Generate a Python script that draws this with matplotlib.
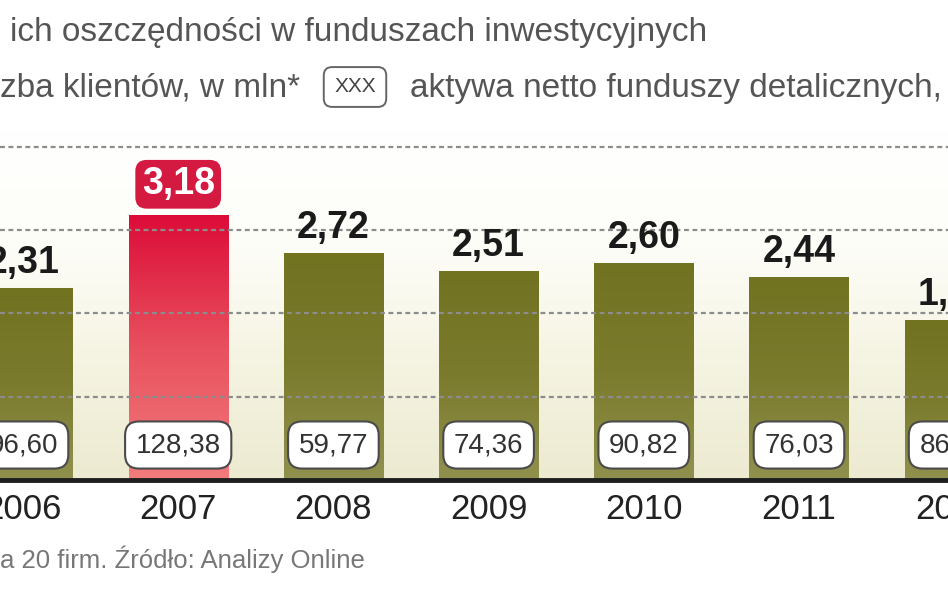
import matplotlib
matplotlib.use("Agg")
import matplotlib.pyplot as plt
from matplotlib.colors import LinearSegmentedColormap
import numpy as np

plt.rcParams["font.family"] = ["Liberation Sans", "DejaVu Sans"]

# data
years = ["2006", "2007", "2008", "2009", "2010", "2011", "2012"]
clients = [2.31, 3.18, 2.72, 2.51, 2.60, 2.44, 1.92]      # mln klientów
assets = [96.60, 128.38, 59.77, 74.36, 90.82, 76.03, 86.34]  # mld zł
peak = 1  # 2007 wyróżniony

OLIVE = LinearSegmentedColormap.from_list("olive", ["#91914f", "#7a7b2c", "#717321"])
RED = LinearSegmentedColormap.from_list("red", ["#f27c7c", "#e8505e", "#dc0c38"])
BG = LinearSegmentedColormap.from_list("bg", ["#ecead0", "#f5f4e2", "#fdfdf8", "#ffffff"])


def pl(v):
    return f"{v:.2f}".replace(".", ",")


fig = plt.figure(figsize=(9.48, 5.93), dpi=100)
ax = fig.add_axes([0, 113 / 593, 1, 350 / 593])

grad = np.linspace(0, 1, 256).reshape(-1, 1)
ax.imshow(grad, cmap=BG, origin="lower", extent=(0, 1, 0, 1),
          transform=ax.transAxes, aspect="auto", zorder=0)

x = np.arange(len(years))
bars = ax.bar(x, clients, width=0.64, color="#80822f", zorder=2)
for i, b in enumerate(bars):
    cmap = RED if i == peak else OLIVE
    im = ax.imshow(grad, cmap=cmap, origin="lower", aspect="auto",
                   extent=(b.get_x(), b.get_x() + b.get_width(), 0, b.get_height()),
                   zorder=2.1)
    im.set_clip_path(b)

# dotted grid lines over the bars
for g in [1, 2, 3, 4]:
    ax.axhline(g, color="#8c8c8c", lw=1.6, ls=(0, (2.2, 1.6)), zorder=3)

ax.axhline(0, color="#1e1e1e", lw=3.5, zorder=5, clip_on=False)

for i, v in enumerate(clients):
    if i == peak:
        ax.text(i, v + 0.25, pl(v), ha="center", va="baseline", fontsize=27,
                fontweight="bold", color="white", zorder=6,
                bbox=dict(boxstyle="round,pad=0.17,rounding_size=0.3",
                          fc="#d51a42", ec="none"))
    else:
        ax.text(i, v + 0.18, pl(v), ha="center", va="baseline", fontsize=27,
                fontweight="bold", color="#1a1a1a", zorder=6)

for i, a in enumerate(assets):
    ax.text(i, 0.42, pl(a), ha="center", va="center", fontsize=20,
            color="#333333", zorder=6,
            bbox=dict(boxstyle="round,pad=0.38,rounding_size=0.5",
                      fc="white", ec="#4a4a4a", lw=1.5))

for i, y in enumerate(years):
    ax.text(i, -0.36, y, ha="center", va="center", fontsize=25,
            color="#222222", clip_on=False)

ax.set_xlim(-23 / 155.2, (948 - 23) / 155.2)
ax.set_ylim(0, 350 / 83.3)
ax.set_xticks([])
ax.set_yticks([])
for s in ax.spines.values():
    s.set_visible(False)

# header
fig.text(10 / 948, 1 - 33 / 593, "ich oszczędności w funduszach inwestycyjnych",
         fontsize=24, color="#555555", va="center", ha="left")
fig.text(0, 1 - 88 / 593, "zba klientów, w mln*",
         fontsize=24, color="#555555", va="center", ha="left")
fig.text(355 / 948, 1 - 87 / 593, "XXX", fontsize=15, color="#444444",
         va="center", ha="center",
         bbox=dict(boxstyle="round,pad=0.5,rounding_size=0.4",
                   fc="white", ec="#666666", lw=1.4))
fig.text(410 / 948, 1 - 88 / 593, "aktywa netto funduszy detalicznych,",
         fontsize=24, color="#555555", va="center", ha="left")

# footnote
fig.text(0, 1 - 559 / 593, "a 20 firm. Źródło: Analizy Online",
         fontsize=18.5, color="#777777", va="center", ha="left")

fig.savefig("out.png", dpi=100)
